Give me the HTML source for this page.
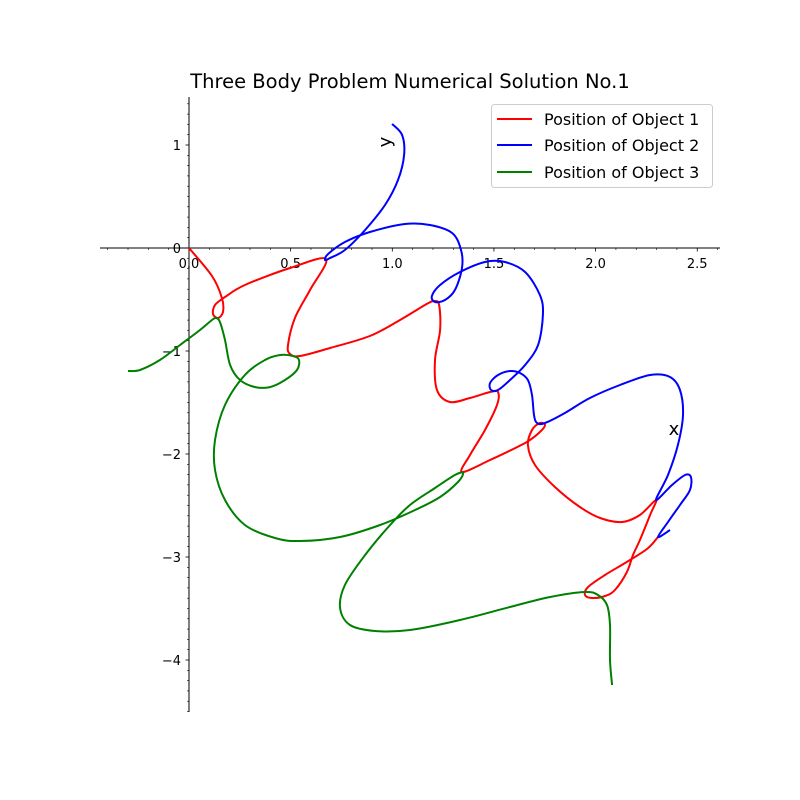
<!DOCTYPE html>
<html><head><meta charset="utf-8"><style>
body{margin:0;background:#fff}
svg{display:block;font-family:"DejaVu Sans","Liberation Sans",sans-serif}
</style></head><body>
<svg id="chart" width="800" height="800">
<rect width="800" height="800" fill="#fff"/>
<text x="410" y="88" text-anchor="middle" font-size="19.5">Three Body Problem Numerical Solution No.1</text>
<g id="axes"></g>
<g id="series"></g>
<text x="0" y="0" font-size="18" transform="translate(391,142) rotate(-90)" text-anchor="middle">y</text>
<text x="674" y="435" font-size="18" text-anchor="middle">x</text>
<g>
<rect x="491.5" y="104.5" width="221" height="83" rx="3" fill="#fff" stroke="#ccc"/>
<line x1="497" y1="119" x2="532" y2="119" stroke="red" stroke-width="2"/>
<text x="544" y="125" font-size="16">Position of Object 1</text>
<line x1="497" y1="145" x2="532" y2="145" stroke="blue" stroke-width="2"/>
<text x="544" y="151" font-size="16">Position of Object 2</text>
<line x1="497" y1="172" x2="532" y2="172" stroke="green" stroke-width="2"/>
<text x="544" y="178" font-size="16">Position of Object 3</text>
</g>
</svg>
<script>
const xTicks=[0,0.5,1.0,1.5,2.0,2.5];
const xTickLabels=["0.0","0.5","1.0","1.5","2.0","2.5"];
const yTicks=[1,0,-1,-2,-3,-4];
const yTickLabels=["1","0","\u22121","\u22122","\u22123","\u22124"];
const obj1X=[0,0.113,0.162,0.167,0.143,0.118,0.128,0.177,0.275,0.497,0.674,0.595,0.521,0.487,0.497,0.546,0.694,0.890,1.038,1.161,1.205,1.230,1.235,1.210,1.220,1.284,1.382,1.481,1.520,1.515,1.456,1.382,1.343,1.481,1.653,1.726,1.751,1.726,1.687,1.667,1.702,1.800,1.923,2.022,2.130,2.218,2.297,2.268,2.218,2.184,2.154,2.095,2.046,1.982,1.948,1.963,2.046,2.145,2.253,2.307];
const obj1Y=[0,-0.272,-0.485,-0.621,-0.680,-0.641,-0.553,-0.476,-0.359,-0.194,-0.107,-0.408,-0.680,-0.942,-1.029,-1.049,-0.971,-0.854,-0.699,-0.553,-0.515,-0.553,-0.796,-1.087,-1.379,-1.495,-1.456,-1.398,-1.398,-1.524,-1.767,-2.010,-2.175,-2.058,-1.893,-1.786,-1.718,-1.699,-1.767,-1.913,-2.107,-2.320,-2.515,-2.621,-2.660,-2.592,-2.447,-2.592,-2.835,-2.981,-3.146,-3.320,-3.379,-3.398,-3.369,-3.291,-3.175,-3.058,-2.922,-2.806];
const obj2X=[0.999,1.048,1.058,1.028,0.964,0.866,0.767,0.694,0.669,0.684,0.767,0.890,1.062,1.185,1.294,1.338,1.343,1.308,1.259,1.210,1.195,1.235,1.333,1.456,1.554,1.653,1.726,1.741,1.717,1.653,1.579,1.520,1.486,1.481,1.520,1.579,1.628,1.667,1.687,1.697,1.712,1.751,1.849,1.972,2.120,2.268,2.366,2.415,2.430,2.405,2.356,2.297,2.376,2.440,2.469,2.464,2.415,2.356,2.307,2.366];
const obj2Y=[1.204,1.097,0.903,0.660,0.417,0.175,-0.019,-0.097,-0.117,-0.058,0.058,0.155,0.233,0.223,0.146,-0.019,-0.194,-0.408,-0.505,-0.524,-0.466,-0.359,-0.233,-0.136,-0.136,-0.233,-0.456,-0.650,-0.942,-1.136,-1.282,-1.379,-1.379,-1.311,-1.233,-1.194,-1.214,-1.282,-1.427,-1.621,-1.699,-1.699,-1.602,-1.456,-1.330,-1.233,-1.252,-1.379,-1.621,-1.913,-2.204,-2.447,-2.301,-2.204,-2.223,-2.350,-2.495,-2.660,-2.806,-2.738];
const obj3X=[-0.300,-0.241,-0.143,-0.044,0.054,0.113,0.133,0.152,0.177,0.202,0.251,0.325,0.398,0.472,0.531,0.541,0.512,0.448,0.374,0.275,0.177,0.128,0.128,0.177,0.275,0.423,0.546,0.743,0.940,1.112,1.235,1.323,1.348,1.308,1.210,1.087,0.989,0.866,0.767,0.743,0.792,0.915,1.087,1.333,1.579,1.776,1.948,2.012,2.056,2.071,2.071,2.081];
const obj3Y=[-1.194,-1.184,-1.087,-0.942,-0.796,-0.699,-0.680,-0.718,-0.893,-1.136,-1.282,-1.350,-1.350,-1.282,-1.184,-1.087,-1.049,-1.039,-1.087,-1.233,-1.524,-1.864,-2.155,-2.447,-2.689,-2.816,-2.845,-2.806,-2.689,-2.544,-2.417,-2.272,-2.184,-2.204,-2.330,-2.495,-2.689,-2.981,-3.272,-3.495,-3.660,-3.718,-3.709,-3.612,-3.485,-3.388,-3.340,-3.369,-3.466,-3.660,-4.000,-4.243];

const NS="http://www.w3.org/2000/svg";
const X0=189,XS=203.3,Y0=248,YS=103;
function sx(v){return X0+v*XS;}
function sy(v){return Y0-v*YS;}
const axes=document.getElementById('axes');
const series=document.getElementById('series');
function mk(tag,attrs,parent){const e=document.createElementNS(NS,tag);for(const k in attrs)e.setAttribute(k,attrs[k]);parent.appendChild(e);return e;}

const xl=mk('line',{x1:100,y1:248,x2:720,y2:248,stroke:'#000','stroke-width':1},axes);


const yl=mk('line',{x1:189,y1:97,x2:189,y2:712,stroke:'#000','stroke-width':1},axes);


for(let i=-4;i<=26;i++){const v=i/10;const p=sx(v);if(p<100||p>720)continue;const maj=(i%5===0);
 const t=mk('line',{x1:p,y1:248,x2:p,y2:248+(maj?3.5:2),stroke:'#000','stroke-width':maj?0.8:0.6},axes);
 
 }
for(let i=-45;i<=14;i++){const v=i/10;const p=sy(v);if(p<97||p>712)continue;const maj=(i%10===0);
 const t=mk('line',{x1:189,y1:p,x2:189-(maj?3.5:2),y2:p,stroke:'#000','stroke-width':maj?0.8:0.6},axes);
 
 }
xTicks.forEach((v,i)=>{const t=mk('text',{x:sx(v),y:268,'text-anchor':'middle','font-size':13},axes);t.textContent=xTickLabels[i];
 
 });
yTicks.forEach((v,i)=>{const t=mk('text',{x:181,y:sy(v)+5,'text-anchor':'end','font-size':13},axes);t.textContent=yTickLabels[i];
 
 });

function smoothPath(xs,ys){const P=xs.map((x,i)=>[sx(x),sy(ys[i])]);let d='M'+P[0][0]+','+P[0][1];
 for(let i=0;i<P.length-1;i++){const p0=P[i-1]||P[i],p1=P[i],p2=P[i+1],p3=P[i+2]||P[i+1];
  const c1=[p1[0]+(p2[0]-p0[0])/6,p1[1]+(p2[1]-p0[1])/6],c2=[p2[0]-(p3[0]-p1[0])/6,p2[1]-(p3[1]-p1[1])/6];
  d+=' C'+c1[0].toFixed(1)+','+c1[1].toFixed(1)+' '+c2[0].toFixed(1)+','+c2[1].toFixed(1)+' '+p2[0].toFixed(1)+','+p2[1].toFixed(1);}
 return d;}
const s1=mk('path',{d:smoothPath(obj1X,obj1Y),fill:'none',stroke:'red','stroke-width':2},series);


const s2=mk('path',{d:smoothPath(obj2X,obj2Y),fill:'none',stroke:'blue','stroke-width':2},series);


const s3=mk('path',{d:smoothPath(obj3X,obj3Y),fill:'none',stroke:'green','stroke-width':2},series);


</script>
</body></html>
